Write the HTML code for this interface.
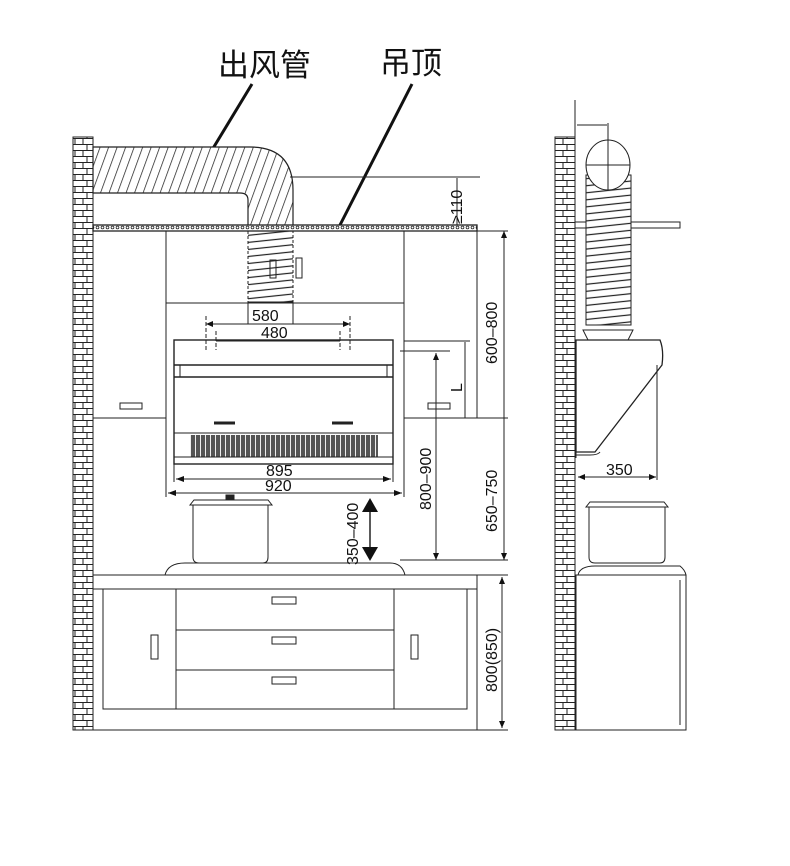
<!DOCTYPE html>
<html><head><meta charset="utf-8"><style>
html,body{margin:0;padding:0;background:#fff;width:790px;height:866px;overflow:hidden}
svg{display:block}
text{font-family:"Liberation Sans","Noto Sans CJK SC",sans-serif;fill:#111}
</style></head><body>
<svg width="790" height="866" viewBox="0 0 790 866" xmlns="http://www.w3.org/2000/svg">
<defs>
<pattern id="brick" width="20" height="12" patternUnits="userSpaceOnUse">
<rect width="20" height="12" fill="#fff"/>
<path d="M0 0.5H20M0 6.5H20M7 0V6M15 6V12M3 6V12" stroke="#222" stroke-width="1" fill="none"/>
</pattern>
<pattern id="hatch" width="8" height="8" patternUnits="userSpaceOnUse" patternTransform="rotate(20)">
<rect width="8" height="8" fill="#fff"/><path d="M0 0V8" stroke="#222" stroke-width="1.5"/>
</pattern>
<pattern id="coil" width="8" height="7" patternUnits="userSpaceOnUse" patternTransform="rotate(-6)">
<rect width="8" height="7" fill="#fff"/><path d="M0 1H8" stroke="#222" stroke-width="1.2"/>
</pattern>
<pattern id="dots" width="5" height="5" patternUnits="userSpaceOnUse">
<rect width="5" height="5" fill="#fff"/><circle cx="2.5" cy="2.5" r="1.4" fill="none" stroke="#222" stroke-width="0.8"/>
</pattern>
<pattern id="grille" width="5" height="22" patternUnits="userSpaceOnUse">
<rect width="5" height="22" fill="#555"/><path d="M0.5 0V22" stroke="#eee" stroke-width="1"/>
</pattern>
</defs>
<g stroke="#222" fill="none" stroke-width="1">
<line x1="252" y1="84" x2="212" y2="150" stroke="#111" stroke-width="3"/>
<line x1="412" y1="84" x2="340" y2="225" stroke="#111" stroke-width="3"/>
<rect x="73" y="137" width="20" height="593" fill="url(#brick)"/>
<path d="M93 147H250Q293 147 293 190V228H248V200Q248 193 240 193H93Z" fill="url(#hatch)" stroke-width="1.2"/>
<rect x="248" y="230" width="45" height="72" fill="url(#coil)" stroke-dasharray="3 2"/>
<rect x="93" y="225" width="384" height="6" fill="url(#dots)" stroke-width="1.3"/>
<line x1="290" y1="177" x2="480" y2="177"/>
<line x1="457" y1="178" x2="457" y2="225"/>
<path d="M93 231V418H166M404 418H477V231M166 231V418M404 231V418M166 303H404"/>
<rect x="270" y="260" width="6" height="18"/><rect x="296" y="258" width="6" height="20"/>
<rect x="120" y="403" width="22" height="6"/><rect x="428" y="403" width="22" height="6"/>
<rect x="248" y="302" width="45" height="22"/>
<rect x="174" y="340" width="219" height="124" fill="#fff" stroke-width="1.4"/>
<line x1="174" y1="365" x2="393" y2="365" stroke-width="1.5"/>
<line x1="174" y1="377" x2="393" y2="377" stroke-width="1.5"/>
<line x1="180" y1="365" x2="180" y2="377"/><line x1="387" y1="365" x2="387" y2="377"/>
<line x1="174" y1="433" x2="393" y2="433"/>
<rect x="190" y="435" width="188" height="22" fill="url(#grille)" stroke="none"/>
<line x1="174" y1="457" x2="393" y2="457"/>
<line x1="214" y1="423" x2="235" y2="423" stroke-width="3"/>
<line x1="332" y1="423" x2="353" y2="423" stroke-width="3"/>
<line x1="206" y1="324" x2="350" y2="324"/>
<line x1="206" y1="316" x2="206" y2="350" stroke-dasharray="4 2"/>
<line x1="350" y1="316" x2="350" y2="350" stroke-dasharray="4 2"/>
<line x1="216" y1="331" x2="216" y2="350" stroke-dasharray="4 2"/>
<line x1="340" y1="331" x2="340" y2="350" stroke-dasharray="4 2"/>
<line x1="216" y1="341" x2="340" y2="341"/>
<line x1="174" y1="464" x2="174" y2="482"/><line x1="393" y1="464" x2="393" y2="482"/>
<line x1="176" y1="479" x2="391" y2="479"/>
<line x1="166" y1="418" x2="166" y2="497"/><line x1="404" y1="418" x2="404" y2="497"/>
<line x1="168" y1="493" x2="402" y2="493"/>
<line x1="477" y1="231" x2="508" y2="231"/>
<line x1="504" y1="231" x2="504" y2="560"/>
<line x1="404" y1="418" x2="508" y2="418"/>
<line x1="400" y1="351" x2="450" y2="351"/>
<line x1="436" y1="353" x2="436" y2="560"/>
<line x1="404" y1="341" x2="470" y2="341"/>
<line x1="465" y1="342" x2="465" y2="418"/>
<line x1="400" y1="560" x2="508" y2="560"/>
<line x1="370" y1="503" x2="370" y2="556" stroke-width="1.5"/>
<path d="M190 505H272L268 500H194Z" fill="#fff"/>
<path d="M193 505V557Q193 563 199 563H263Q268 563 268 557V505"/>
<rect x="226" y="495" width="8" height="4" fill="#222"/>
<path d="M165 575Q168 563 185 563H390Q402 563 405 575"/>
<rect x="93" y="575" width="384" height="155"/>
<path d="M93 589H477M103 589V709H467V589M176 589V709M394 589V709M176 630H394M176 670H394"/>
<rect x="272" y="597" width="24" height="7"/><rect x="272" y="637" width="24" height="7"/><rect x="272" y="677" width="24" height="7"/>
<rect x="151" y="635" width="7" height="24"/><rect x="411" y="635" width="7" height="24"/>
<line x1="477" y1="575" x2="508" y2="575"/><line x1="477" y1="730" x2="508" y2="730"/>
<line x1="502" y1="577" x2="502" y2="728"/>
<rect x="555" y="137" width="20" height="593" fill="url(#brick)"/>
<line x1="575" y1="100" x2="575" y2="730"/>
<line x1="577" y1="125" x2="607" y2="125"/><line x1="608" y1="123" x2="608" y2="195"/>
<rect x="575" y="222" width="105" height="6" fill="#fff"/>
<rect x="586" y="175" width="45" height="150" fill="url(#coil)"/>
<ellipse cx="608" cy="165" rx="22" ry="25" fill="#fff"/>
<line x1="586" y1="165" x2="630" y2="165"/><line x1="608" y1="140" x2="608" y2="190"/>
<path d="M583 330H633L628 340H588Z" fill="#fff"/>
<path d="M576 340H660Q664 350 662 365L595 452H576Z" fill="#fff" stroke-width="1.3"/>
<line x1="576" y1="340" x2="576" y2="458"/>
<path d="M576 455H590Q598 455 600 452"/>
<line x1="657" y1="365" x2="657" y2="480"/>
<line x1="578" y1="477" x2="656" y2="477"/>
<path d="M586 507H668L664 502H590Z" fill="#fff"/>
<path d="M589 507V557Q589 563 595 563H660Q665 563 665 557V507"/>
<path d="M578 575Q580 566 595 566H680Q685 570 686 575Z"/>
<path d="M576 575H686V730H576ZM680 580V725"/>
</g>
<g fill="#111">
<polygon points="370,498 362,512 378,512"/><polygon points="370,561 362,547 378,547"/>
<polygon points="176,479 184,476 184,482"/><polygon points="391,479 383,476 383,482"/>
<polygon points="168,493 176,490 176,496"/><polygon points="402,493 394,490 394,496"/>
<polygon points="206,324 213,321 213,327"/><polygon points="350,324 343,321 343,327"/>
<polygon points="578,477 585,474 585,480"/><polygon points="656,477 649,474 649,480"/>
<polygon points="504,231 501,238 507,238"/><polygon points="504,560 501,553 507,553"/>
<polygon points="436,353 433,360 439,360"/><polygon points="436,560 433,553 439,553"/>
<polygon points="502,577 499,584 505,584"/><polygon points="502,728 499,721 505,721"/>
</g>
<text x="218" y="76" font-size="31">出风管</text>
<text x="380" y="74" font-size="31">吊顶</text>
<g font-size="16">
<text x="252" y="321">580</text>
<text x="261" y="338">480</text>
<text x="266" y="476">895</text>
<text x="265" y="491">920</text>
<text x="606" y="475">350</text>
<text transform="translate(462,224) rotate(-90)">≥110</text>
<text transform="translate(497,364) rotate(-90)">600–800</text>
<text transform="translate(497,532) rotate(-90)">650–750</text>
<text transform="translate(431,510) rotate(-90)">800–900</text>
<text transform="translate(358,565) rotate(-90)">350–400</text>
<text transform="translate(497,692) rotate(-90)">800(850)</text>
<text transform="translate(462,392) rotate(-90)">L</text>
</g>
</svg>
</body></html>
